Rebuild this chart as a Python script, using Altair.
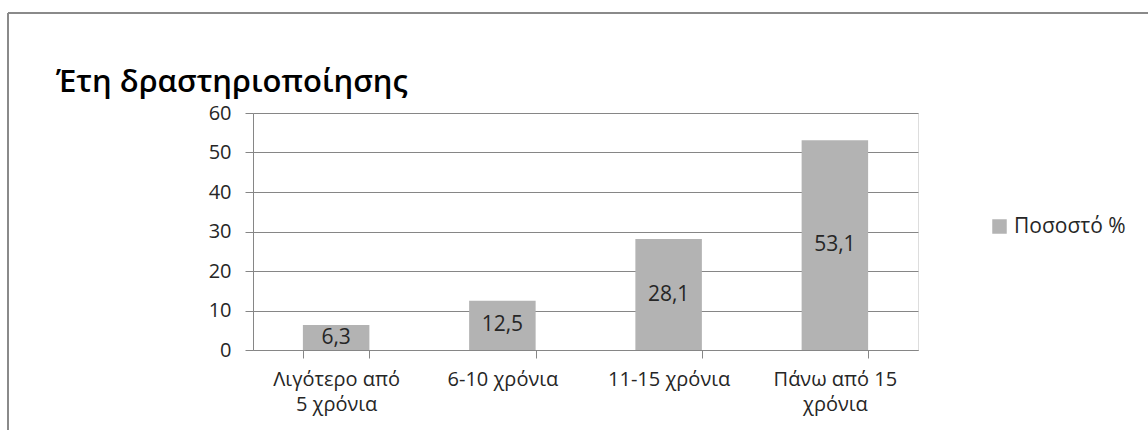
import altair as alt
import pandas as pd

categories = ["Λιγότερο από\n5 χρόνια", "6-10 χρόνια", "11-15 χρόνια", "Πάνω από 15\nχρόνια"]
values = [6.3, 12.5, 28.1, 53.1]
series_name = "Ποσοστό %"
title_text = "Έτη δραστηριοποίησης"
y_ticks = [0, 10, 20, 30, 40, 50, 60]

df = pd.DataFrame({"cat": categories, "val": values, "series": [series_name] * len(values)})

FONT = "Open Sans"
GRID = "#868686"
BAR = "#b3b3b3"
TXT = "#262626"
FS = 20

base = alt.Chart(df).transform_calculate(
    mid="datum.val / 2",
    lab="replace(format(datum.val, '.1f'), '.', ',')",
)

x_axis = alt.Axis(
    title=None,
    labelAngle=0,
    labelExpr="split(datum.label, '\\n')",
    labelFontSize=FS,
    labelFont=FONT,
    labelColor=TXT,
    labelPadding=11,
    labelLineHeight=25,
    labelOverlap=False,
    tickBand="extent",
    tickSize=8,
    tickColor=GRID,
    domainColor=GRID,
    grid=False,
)
y_axis = alt.Axis(
    title=None,
    values=y_ticks,
    labelFontSize=FS,
    labelFont=FONT,
    labelColor=TXT,
    labelPadding=14,
    labelOverlap=False,
    tickSize=8,
    tickColor=GRID,
    domainColor=GRID,
    gridColor=GRID,
    grid=True,
)
x_scale = alt.Scale(paddingInner=0.6, paddingOuter=0.3)
y_scale = alt.Scale(domain=[0, 60], nice=False)

bars = base.mark_bar(color=BAR).encode(
    x=alt.X("cat:N", sort=categories, scale=x_scale, axis=x_axis),
    y=alt.Y("val:Q", scale=y_scale, axis=y_axis),
    color=alt.Color(
        "series:N",
        scale=alt.Scale(range=[BAR]),
        legend=alt.Legend(
            title=None,
            orient="none",
            legendX=736,
            legendY=103,
            symbolType="square",
            symbolSize=210,
            symbolStrokeWidth=0,
            labelFontSize=21,
            labelFont=FONT,
            labelColor=TXT,
            labelOffset=4,
        ),
    ),
)

texts = base.mark_text(fontSize=21, font=FONT, color=TXT, baseline="middle").encode(
    x=alt.X("cat:N", sort=categories, scale=x_scale, axis=x_axis),
    y=alt.Y("mid:Q", scale=y_scale, axis=y_axis),
    text="lab:N",
)

title_df = pd.DataFrame({"t": [title_text]})
title_mark = alt.Chart(title_df).mark_text(
    fontSize=31, fontWeight=600, font=FONT, color="#000000", align="left", baseline="alphabetic"
).encode(text="t:N", x=alt.value(-197), y=alt.value(-21))

border_df = pd.DataFrame({"k": [0]})
border_top = alt.Chart(border_df).mark_rule(color="#8a8a8a", strokeWidth=2).encode(
    x=alt.value(-245), x2=alt.value(900), y=alt.value(-100)
)
border_left = alt.Chart(border_df).mark_rule(color="#8a8a8a", strokeWidth=2).encode(
    x=alt.value(-245), y=alt.value(-100), y2=alt.value(330)
)

chart = alt.layer(bars, texts, title_mark, border_top, border_left).properties(
    width=665,
    height=237,
    padding={"left": 253, "top": 113, "right": 230, "bottom": 80},
    autosize=alt.AutoSizeParams(type="none"),
).configure_view(strokeWidth=0, strokeOpacity=0).configure(background="white")

chart.save("out.html", embed_options={"renderer": "svg", "actions": False})
